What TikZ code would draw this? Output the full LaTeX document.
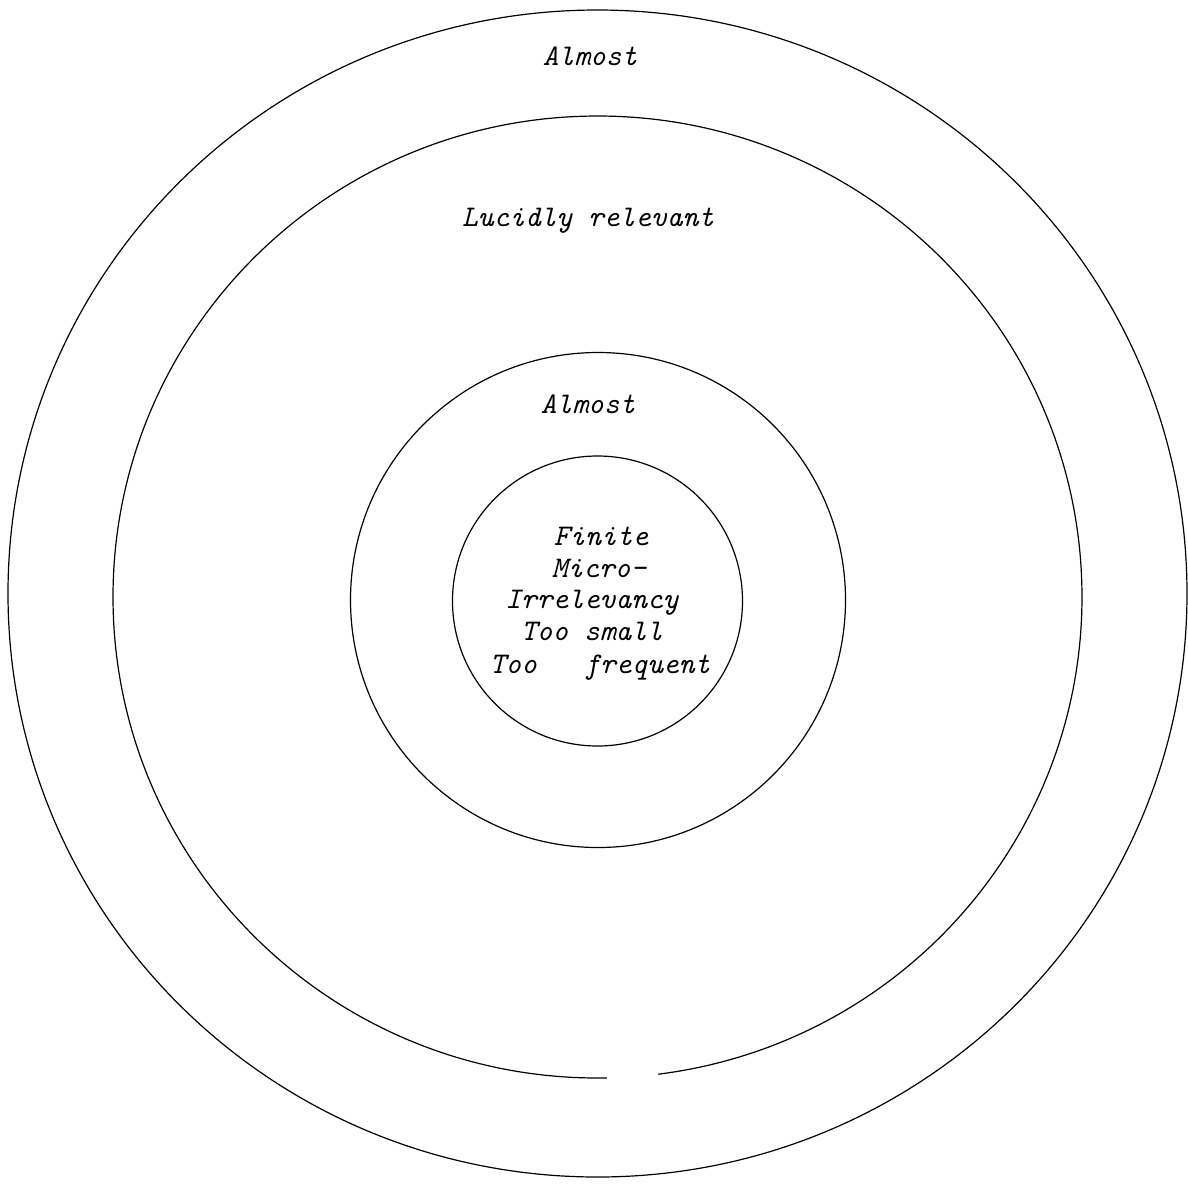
\documentclass[tikz,border=0pt]{standalone}
\usepackage{fontspec}
\setmonofont{Latin Modern Mono}
\begin{document}
\begin{tikzpicture}[x=0.5pt,y=-0.5pt,
  ring/.style={draw=black,line width=0.6pt},
  lbl/.style={font=\fontsize{15}{16}\ttfamily\itshape,inner sep=0pt,anchor=base}]
\useasboundingbox (0,0) rectangle (1188,1190);
% rings
\draw[ring] (597.5,593.5) ellipse [x radius=589.5, y radius=583.5];
\draw[ring] (597.5,597) ++(88.9:484.5 and 481) arc [start angle=88.9, end angle=442.8, x radius=484.5, y radius=481];
\draw[ring] (598,600) circle [radius=247.5];
\draw[ring] (597.5,601) circle [radius=145];
% labels
\node[lbl] (almostOuter) at (590,65) {Almost};
\node[lbl] (lucid) at (588,226) {Lucidly relevant};
\node[lbl] (almostInner) at (588,413) {Almost};
\node[lbl] (l1) at (601,545) {Finite};
\node[lbl] (l2) at (599,577) {Micro-};
\node[lbl] (l3) at (592,608) {Irrelevancy};
\node[lbl] (l4) at (592,640) {Too small};
\node[lbl] (l5) at (600,673) {Too\ \ \ frequent};
\end{tikzpicture}
\end{document}
